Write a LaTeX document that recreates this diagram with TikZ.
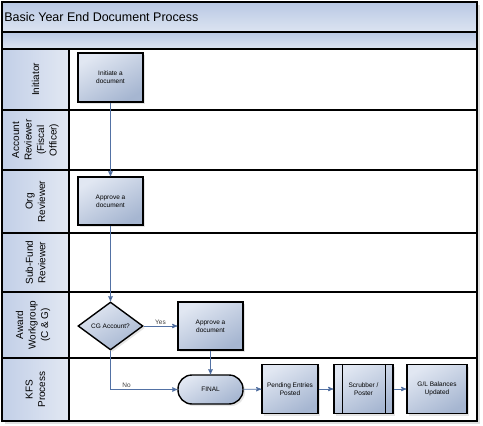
\documentclass[tikz,border=0pt]{standalone}
\usepackage{fontspec}
\setmainfont{Liberation Sans}
\usetikzlibrary{arrows,shapes,shadows}

\definecolor{bandtop}{HTML}{B9C8E4}
\definecolor{bandbot}{HTML}{DCE4F1}
\definecolor{headleft}{HTML}{C2CFE7}
\definecolor{headright}{HTML}{E2E8F3}
\definecolor{boxtop}{HTML}{E1E7F2}
\definecolor{boxbot}{HTML}{A6B6D1}
\definecolor{linkblue}{HTML}{5271A4}

\begin{document}
\begin{tikzpicture}[->,>=stealth',auto,semithick,x=1pt,y=-1pt,
    lanehead/.style={rotate=90,align=center,inner sep=0pt,font=\fontsize{10}{12.5}\selectfont},
    box/.style={shape=rectangle,draw=black,line width=1.4pt,top color=boxtop,bottom color=boxbot,
        shading angle=30,align=center,inner sep=1pt,font=\fontsize{6.5}{8}\selectfont,
        drop shadow={opacity=0.2,shadow xshift=2pt,shadow yshift=-2pt}},
    link/.style={draw=linkblue,line width=0.9pt},
    answer/.style={fill=white,inner sep=1pt,text=black!75,font=\fontsize{6.5}{8}\selectfont}]
                \useasboundingbox (0,0) rectangle (483,426);
                % frame and bands
                \fill[-,black!12] (5,5) rectangle (480,424);
                \fill[-,white] (2,49) rectangle (477,421);
                \shade[-,top color=bandtop,bottom color=bandbot] (2,2) rectangle (477,32);
                \shade[-,top color=bandtop,bottom color=bandbot] (2,32) rectangle (477,49);
                \shade[-,left color=headleft,right color=headright] (2,49) rectangle (69,421);
                \draw[-,line width=1.3pt] (2,2) rectangle (477,421);
                \draw[-,line width=1.3pt] (2,32) -- (477,32) (2,49) -- (477,49) (69,49) -- (69,421);
                \foreach \y in {110,170,233,292,358}
                    \draw[-,line width=1.3pt] (2,\y) -- (477,\y);
                \node[anchor=west,inner sep=0pt,font=\fontsize{12.5}{14}\selectfont](Title)at(4, 17){Basic Year End Document Process};
                % lanes
                \node[lanehead](Initiator)at(35.5, 79.5){Initiator};
                \node[lanehead](Account)at(35.5, 140){Account\\Reviewer\\(Fiscal\\Officer)};
                \node[lanehead](OrgLane)at(35.5, 201.5){Org\\Reviewer};
                \node[lanehead](SubFund)at(35.5, 262.5){Sub-Fund\\Reviewer};
                \node[lanehead](AwardLane)at(33, 325){Award\\Workgroup\\(C \& G)};
                \node[lanehead](KFS)at(35.5, 389.5){KFS\\Process};
                % steps
                \node[box,minimum width=65pt,minimum height=49pt](Init)at(110.5, 77.5){Initiate a\\document};
                \node[box,minimum width=65pt,minimum height=48pt](Org)at(110.5, 201){Approve a\\document};
                \node[box,shape=diamond,aspect=1.35,inner sep=0pt,minimum width=65pt,minimum height=48pt](CG)at(110.5, 326){CG Account?};
                \node[box,minimum width=65pt,minimum height=48pt](Award)at(210.5, 326){Approve a\\document};
                \node[box,rounded corners=14pt,minimum width=65pt,minimum height=29pt](Final)at(210.5, 389.5){FINAL};
                \node[box,minimum width=56pt,minimum height=49pt](Pend)at(290, 389){Pending Entries\\Posted};
                \node[box,minimum width=59pt,minimum height=49pt](Scrub)at(363.5, 389){Scrubber /\\Poster};
                \draw[-,line width=1.4pt] ([xshift=9pt]Scrub.north west) -- ([xshift=9pt]Scrub.south west)
                    ([xshift=-8pt]Scrub.north east) -- ([xshift=-8pt]Scrub.south east);
                \node[box,minimum width=60pt,minimum height=49pt](GL)at(437, 389){G/L Balances\\Updated};
                \path[link](Init) edge (Org)
                (Org) edge (CG)
                (CG) edge node[answer,pos=0.5]{Yes} (Award)
                (Award) edge (Final)
                (Final) edge (Pend)
                (Pend) edge (Scrub)
                (Scrub) edge (GL);
                \draw[link](CG) |- node[answer,pos=0.62]{No} (Final);
            \end{tikzpicture}
\end{document}
